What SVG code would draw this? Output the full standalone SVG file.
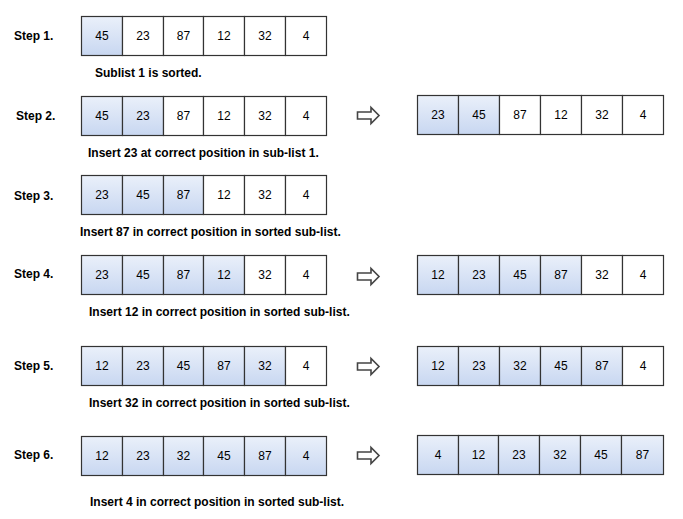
<svg xmlns="http://www.w3.org/2000/svg" width="683" height="519" viewBox="0 0 683 519">
<defs>
<linearGradient id="blue" x1="0" y1="0" x2="0" y2="1">
<stop offset="0" stop-color="#eaf0fa"/>
<stop offset="1" stop-color="#c8d7f1"/>
</linearGradient>
<path id="arr" d="M357.5,-3.5 H371 V-8 L379,0 L371,8 V3.5 H357.5 Z"/>
</defs>
<style>
rect.c{fill:#ffffff;stroke:#333333;stroke-width:1.2}
rect.f{fill:url(#blue);stroke:#333333;stroke-width:1.2}
text{font-family:"Liberation Sans",Arial,sans-serif;font-size:12px;fill:#000000}
text.v{text-anchor:middle}
text.b{font-weight:bold}
.arrow{fill:#ffffff;stroke:#444444;stroke-width:1.6;stroke-linejoin:miter}
</style>
<rect width="683" height="519" fill="#ffffff"/>

<g id="step1">
<text class="b" x="14" y="40">Step 1.</text>
<g id="step1-list">
<rect class="f" x="81.5" y="16.5" width="41" height="39"/><text class="v" x="102" y="40">45</text>
<rect class="c" x="122.5" y="16.5" width="41" height="39"/><text class="v" x="143" y="40">23</text>
<rect class="c" x="163.5" y="16.5" width="40" height="39"/><text class="v" x="183.5" y="40">87</text>
<rect class="c" x="203.5" y="16.5" width="41" height="39"/><text class="v" x="224" y="40">12</text>
<rect class="c" x="244.5" y="16.5" width="41" height="39"/><text class="v" x="265" y="40">32</text>
<rect class="c" x="285.5" y="16.5" width="41" height="39"/><text class="v" x="306" y="40">4</text>
</g>
<text class="b" x="95" y="77">Sublist 1 is sorted.</text>
</g>

<g id="step2">
<text class="b" x="16" y="120">Step 2.</text>
<g id="step2-list">
<rect class="f" x="81.5" y="96.5" width="41" height="39"/><text class="v" x="102" y="120">45</text>
<rect class="f" x="122.5" y="96.5" width="41" height="39"/><text class="v" x="143" y="120">23</text>
<rect class="c" x="163.5" y="96.5" width="40" height="39"/><text class="v" x="183.5" y="120">87</text>
<rect class="c" x="203.5" y="96.5" width="41" height="39"/><text class="v" x="224" y="120">12</text>
<rect class="c" x="244.5" y="96.5" width="41" height="39"/><text class="v" x="265" y="120">32</text>
<rect class="c" x="285.5" y="96.5" width="41" height="39"/><text class="v" x="306" y="120">4</text>
</g>
<g id="step2-result">
<rect class="f" x="417.5" y="95.5" width="41" height="39"/><text class="v" x="438" y="119">23</text>
<rect class="f" x="458.5" y="95.5" width="41" height="39"/><text class="v" x="479" y="119">45</text>
<rect class="c" x="499.5" y="95.5" width="41" height="39"/><text class="v" x="520" y="119">87</text>
<rect class="c" x="540.5" y="95.5" width="41" height="39"/><text class="v" x="561" y="119">12</text>
<rect class="c" x="581.5" y="95.5" width="41" height="39"/><text class="v" x="602" y="119">32</text>
<rect class="c" x="622.5" y="95.5" width="41" height="39"/><text class="v" x="643" y="119">4</text>
</g>
<text class="b" x="88" y="157">Insert 23 at correct position in sub-list 1.</text>
</g>

<g id="step3">
<text class="b" x="14" y="200">Step 3.</text>
<g id="step3-list">
<rect class="f" x="81.5" y="175.5" width="41" height="39"/><text class="v" x="102" y="199">23</text>
<rect class="f" x="122.5" y="175.5" width="41" height="39"/><text class="v" x="143" y="199">45</text>
<rect class="f" x="163.5" y="175.5" width="40" height="39"/><text class="v" x="183.5" y="199">87</text>
<rect class="c" x="203.5" y="175.5" width="41" height="39"/><text class="v" x="224" y="199">12</text>
<rect class="c" x="244.5" y="175.5" width="41" height="39"/><text class="v" x="265" y="199">32</text>
<rect class="c" x="285.5" y="175.5" width="41" height="39"/><text class="v" x="306" y="199">4</text>
</g>
<text class="b" x="80" y="236">Insert 87 in correct position in sorted sub-list.</text>
</g>

<g id="step4">
<text class="b" x="14" y="278">Step 4.</text>
<g id="step4-list">
<rect class="f" x="81.5" y="255.5" width="41" height="39"/><text class="v" x="102" y="279">23</text>
<rect class="f" x="122.5" y="255.5" width="41" height="39"/><text class="v" x="143" y="279">45</text>
<rect class="f" x="163.5" y="255.5" width="40" height="39"/><text class="v" x="183.5" y="279">87</text>
<rect class="f" x="203.5" y="255.5" width="41" height="39"/><text class="v" x="224" y="279">12</text>
<rect class="c" x="244.5" y="255.5" width="41" height="39"/><text class="v" x="265" y="279">32</text>
<rect class="c" x="285.5" y="255.5" width="41" height="39"/><text class="v" x="306" y="279">4</text>
</g>
<g id="step4-result">
<rect class="f" x="417.5" y="255.5" width="41" height="39"/><text class="v" x="438" y="279">12</text>
<rect class="f" x="458.5" y="255.5" width="41" height="39"/><text class="v" x="479" y="279">23</text>
<rect class="f" x="499.5" y="255.5" width="41" height="39"/><text class="v" x="520" y="279">45</text>
<rect class="f" x="540.5" y="255.5" width="41" height="39"/><text class="v" x="561" y="279">87</text>
<rect class="c" x="581.5" y="255.5" width="41" height="39"/><text class="v" x="602" y="279">32</text>
<rect class="c" x="622.5" y="255.5" width="41" height="39"/><text class="v" x="643" y="279">4</text>
</g>
<text class="b" x="89" y="316">Insert 12 in correct position in sorted sub-list.</text>
</g>

<g id="step5">
<text class="b" x="14" y="370">Step 5.</text>
<g id="step5-list">
<rect class="f" x="81.5" y="346.5" width="41" height="39"/><text class="v" x="102" y="370">12</text>
<rect class="f" x="122.5" y="346.5" width="41" height="39"/><text class="v" x="143" y="370">23</text>
<rect class="f" x="163.5" y="346.5" width="40" height="39"/><text class="v" x="183.5" y="370">45</text>
<rect class="f" x="203.5" y="346.5" width="41" height="39"/><text class="v" x="224" y="370">87</text>
<rect class="f" x="244.5" y="346.5" width="41" height="39"/><text class="v" x="265" y="370">32</text>
<rect class="c" x="285.5" y="346.5" width="41" height="39"/><text class="v" x="306" y="370">4</text>
</g>
<g id="step5-result">
<rect class="f" x="417.5" y="346.5" width="41" height="39"/><text class="v" x="438" y="370">12</text>
<rect class="f" x="458.5" y="346.5" width="41" height="39"/><text class="v" x="479" y="370">23</text>
<rect class="f" x="499.5" y="346.5" width="41" height="39"/><text class="v" x="520" y="370">32</text>
<rect class="f" x="540.5" y="346.5" width="41" height="39"/><text class="v" x="561" y="370">45</text>
<rect class="f" x="581.5" y="346.5" width="41" height="39"/><text class="v" x="602" y="370">87</text>
<rect class="c" x="622.5" y="346.5" width="41" height="39"/><text class="v" x="643" y="370">4</text>
</g>
<text class="b" x="89" y="407">Insert 32 in correct position in sorted sub-list.</text>
</g>

<g id="step6">
<text class="b" x="14" y="459">Step 6.</text>
<g id="step6-list">
<rect class="f" x="81.5" y="436.5" width="41" height="39"/><text class="v" x="102" y="460">12</text>
<rect class="f" x="122.5" y="436.5" width="41" height="39"/><text class="v" x="143" y="460">23</text>
<rect class="f" x="163.5" y="436.5" width="40" height="39"/><text class="v" x="183.5" y="460">32</text>
<rect class="f" x="203.5" y="436.5" width="41" height="39"/><text class="v" x="224" y="460">45</text>
<rect class="f" x="244.5" y="436.5" width="41" height="39"/><text class="v" x="265" y="460">87</text>
<rect class="f" x="285.5" y="436.5" width="41" height="39"/><text class="v" x="306" y="460">4</text>
</g>
<g id="step6-result">
<rect class="f" x="417.5" y="435.5" width="41" height="39"/><text class="v" x="438" y="459">4</text>
<rect class="f" x="458.5" y="435.5" width="40" height="39"/><text class="v" x="478.5" y="459">12</text>
<rect class="f" x="498.5" y="435.5" width="41" height="39"/><text class="v" x="519" y="459">23</text>
<rect class="f" x="539.5" y="435.5" width="41" height="39"/><text class="v" x="560" y="459">32</text>
<rect class="f" x="580.5" y="435.5" width="41" height="39"/><text class="v" x="601" y="459">45</text>
<rect class="f" x="621.5" y="435.5" width="42" height="39"/><text class="v" x="642.5" y="459">87</text>
</g>
<text class="b" x="90" y="506">Insert 4 in correct position in sorted sub-list.</text>
</g>

<g id="connectors">
<use href="#arr" class="arrow" transform="translate(0,115.5)"/>
<use href="#arr" class="arrow" transform="translate(0,276.5)"/>
<use href="#arr" class="arrow" transform="translate(0,366.5)"/>
<use href="#arr" class="arrow" transform="translate(0,455.5)"/>
</g>
</svg>
